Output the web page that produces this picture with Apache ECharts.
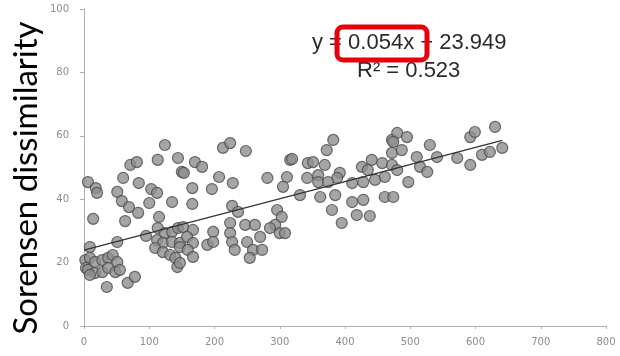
<!DOCTYPE html>
<html>
<head>
<meta charset="utf-8">
<script src="https://cdn.jsdelivr.net/npm/echarts@6/dist/echarts.min.js"></script>
<style>
  html, body { margin: 0; padding: 0; background: #fff; }
  #chart { width: 620px; height: 356px; }
</style>
</head>
<body>
<div id="chart"></div>
<script>
// distance (x) vs Sorensen dissimilarity (y)
var xValues = [
  6, 18, 20, 14, 9, 51, 60, 51, 58, 69, 83, 84, 100, 103, 112, 135, 63, 115, 95, 71,
  81, 113, 124, 144, 150, 2, 9, 17, 28, 37, 44, 51, 3, 6, 17, 28, 37, 48, 55, 9,
  35, 67, 78, 113, 124, 135, 144, 112, 121, 135, 147, 109, 121, 132, 140, 143, 147, 213, 224, 248,
  170, 181, 153, 207, 228, 281, 311, 316, 166, 196, 305, 166, 227, 236, 296, 303, 293, 152, 167, 158,
  167, 159, 167, 189, 198, 198, 224, 224, 227, 231, 247, 250, 259, 262, 270, 285, 300, 147, 382, 372,
  319, 343, 351, 369, 342, 359, 392, 388, 359, 374, 411, 428, 331, 362, 385, 411, 428, 380, 418, 438,
  395, 426, 441, 457, 472, 472, 461, 446, 461, 474, 435, 308, 480, 495, 474, 487, 472, 480, 530, 541,
  510, 515, 526, 497, 592, 599, 630, 572, 592, 610, 622, 641, 273, 254
];
var yValues = [
  45.4, 43.5, 42.0, 33.8, 24.9, 26.5, 46.7, 42.3, 39.4, 37.5, 35.7, 45.1, 38.8, 43.2, 42.0, 39.1, 33.1, 34.4, 28.4, 50.8,
  51.7, 52.4, 57.1, 53.0, 48.6, 20.8, 21.5, 20.2, 20.8, 21.5, 22.4, 20.2, 18.3, 17.7, 16.7, 17.0, 18.3, 17.0, 17.7, 16.1,
  12.3, 13.6, 15.5, 30.9, 29.3, 29.7, 30.9, 27.1, 26.2, 26.5, 26.2, 24.6, 23.3, 22.4, 21.5, 18.6, 24.9, 56.2, 57.7, 55.2,
  51.7, 50.2, 48.3, 47.0, 45.1, 46.7, 47.0, 52.4, 43.5, 43.2, 43.9, 38.5, 37.9, 36.0, 36.6, 34.4, 31.9, 31.2, 30.3, 28.1,
  26.2, 24.0, 21.8, 25.6, 29.7, 26.5, 32.5, 29.3, 26.5, 24.0, 31.9, 26.5, 24.0, 31.9, 28.1, 30.9, 29.3, 19.9, 58.7, 55.5,
  52.7, 51.4, 51.7, 50.8, 46.7, 47.6, 48.3, 46.7, 45.4, 45.4, 45.1, 45.4, 41.3, 40.7, 41.3, 39.1, 39.8, 36.6, 35.0, 34.7,
  32.5, 50.2, 52.4, 51.4, 58.7, 54.6, 47.0, 46.1, 40.7, 40.7, 49.2, 29.3, 60.9, 59.6, 58.1, 55.5, 50.8, 49.2, 57.1, 53.3,
  53.3, 50.2, 48.6, 45.4, 59.6, 61.2, 62.8, 53.0, 50.8, 54.0, 54.9, 56.2, 24.0, 21.5
];

// linear trendline from the figure
var slope = 0.054;
var intercept = 23.949;
var rSquared = 0.523;
var trendRange = [0, 641];

var xTicks = [0, 800, 100];   // min, max, interval
var yTicks = [0, 100, 20];

var chartObj = echarts.init(document.getElementById('chart'));

var points = [];
for (var i = 0; i < xValues.length; i++) {
  points.push([xValues[i], yValues[i]]);
}
var trend = [];
for (var j = 0; j < trendRange.length; j++) {
  trend.push([trendRange[j], slope * trendRange[j] + intercept]);
}

var axisText = { color: '#8c8c8c', fontSize: 10, fontFamily: 'DejaVu Sans' };

var option = {
  animation: false,
  backgroundColor: '#fff',
  grid: { left: 84, right: 14, top: 9, bottom: 30 },
  xAxis: {
    type: 'value',
    min: xTicks[0], max: xTicks[1], interval: xTicks[2],
    splitLine: { show: false },
    axisLine: { lineStyle: { color: '#b0b0b0' } },
    axisTick: { length: 3, lineStyle: { color: '#b0b0b0' } },
    axisLabel: Object.assign({ margin: 11 }, axisText)
  },
  yAxis: {
    type: 'value',
    min: yTicks[0], max: yTicks[1], interval: yTicks[2],
    splitLine: { show: false },
    axisLine: { show: true, lineStyle: { color: '#b0b0b0' } },
    axisTick: { show: true, length: 4, lineStyle: { color: '#b0b0b0' } },
    axisLabel: Object.assign({ margin: 15 }, axisText)
  },
  graphic: [
    {
      type: 'text', x: 26, y: 178, rotation: Math.PI / 2,
      style: {
        text: 'Sorensen dissimilarity', fill: '#000',
        font: '33px Lato', textAlign: 'center', textVerticalAlign: 'middle'
      }
    },
    {
      type: 'text', x: 312, y: 43,
      style: {
        text: 'y = ' + slope.toFixed(3) + 'x + ' + intercept.toFixed(3), fill: '#2a2a2a',
        font: '22px "Liberation Sans"', textAlign: 'left', textVerticalAlign: 'middle'
      }
    },
    {
      type: 'text', x: 357, y: 71,
      style: {
        text: 'R\u00b2 = ' + rSquared.toFixed(3), fill: '#2a2a2a',
        font: '22px "Liberation Sans"', textAlign: 'left', textVerticalAlign: 'middle'
      }
    },
    {
      type: 'rect', z: 10,
      shape: { x: 337, y: 27, width: 90, height: 33, r: 6 },
      style: { fill: 'none', stroke: '#e8000b', lineWidth: 5 }
    }
  ],
  series: [
    {
      name: 'sites',
      type: 'scatter',
      symbolSize: 11,
      data: points,
      itemStyle: { color: '#8e8e8e', borderColor: '#4a4a4a', borderWidth: 1.2 }
    },
    {
      name: 'trend',
      type: 'line',
      data: trend,
      symbol: 'none',
      z: 3,
      lineStyle: { color: '#333', width: 1.2 }
    }
  ]
};

chartObj.setOption(option);
</script>
</body>
</html>
